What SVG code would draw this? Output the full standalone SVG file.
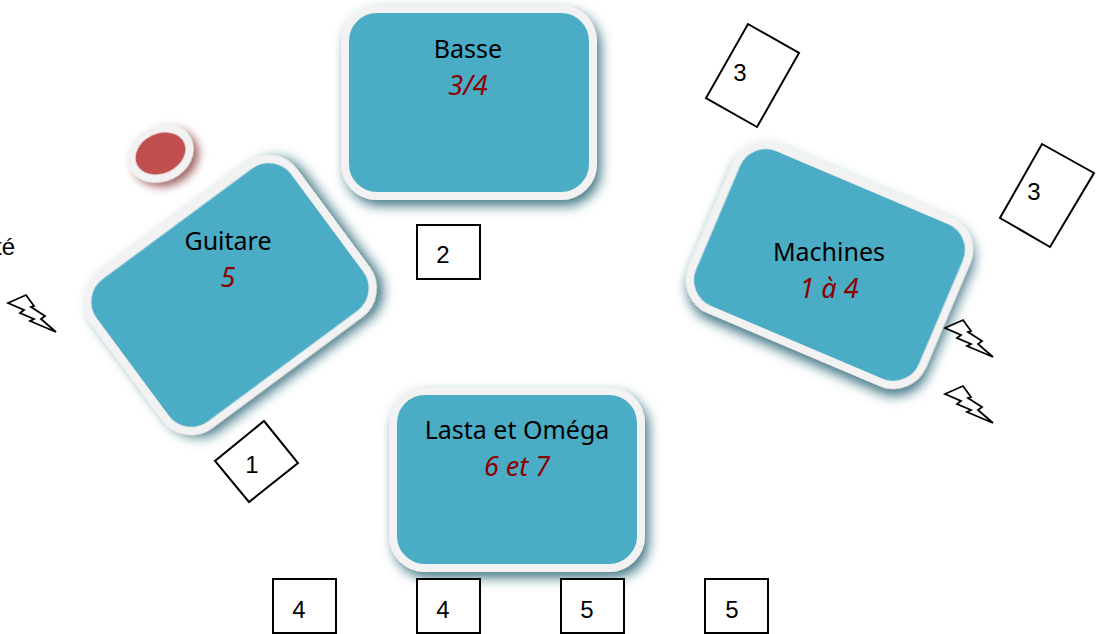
<svg xmlns="http://www.w3.org/2000/svg" width="1097" height="634" viewBox="0 0 1097 634">
<style>
.stage{fill:#4bacc6;stroke:#f2f2f2;stroke-width:8;filter:url(#sh)}
.t{font-family:"Noto Sans",sans-serif;font-size:25px;fill:#000;text-anchor:middle}
.s{font-family:"Noto Sans",sans-serif;font-size:27px;font-style:italic;fill:#8b0000;text-anchor:middle}
.b{fill:#fff;stroke:#000;stroke-width:2}
.n{font-family:"Liberation Sans",sans-serif;font-size:24px;fill:#000;text-anchor:middle}
.l{font-family:"Liberation Sans",sans-serif;font-size:24px;fill:#000}
.z{fill:#fff;stroke:#000;stroke-width:1.800}
</style>
<defs>
<filter id="sh" x="-20%" y="-20%" width="140%" height="140%"><feDropShadow dx="4" dy="6" stdDeviation="6" flood-color="#1f5a6b" flood-opacity=".8"/></filter>
<filter id="shr" x="-40%" y="-40%" width="180%" height="180%"><feDropShadow dx="3" dy="6" stdDeviation="4" flood-color="#7a2020" flood-opacity=".7"/></filter>
<polygon id="bolt" points="0,0 18,-8 26,3 23,4 37,13 33,16 48,29 22,18 26,16 12,10 16,7"/>
</defs>
<g id="basse"><rect class="stage" x="345" y="9" width="248" height="187" rx="32"/><text class="t" x="468" y="58">Basse</text><text class="s" x="468" y="95">3/4</text></g>
<g id="guitare"><rect class="stage" x="105" y="202.500" width="250" height="185" rx="32" transform="rotate(-36.500 230 295)"/><text class="t" x="228" y="250">Guitare</text><text class="s" x="228" y="287">5</text></g>
<g id="machines"><rect class="stage" x="704.500" y="177" width="250" height="176" rx="32" transform="rotate(23 829.500 265)"/><text class="t" x="829" y="261">Machines</text><text class="s" x="829" y="298">1 à 4</text></g>
<g id="lasta"><rect class="stage" x="393" y="391" width="248" height="177" rx="32"/><text class="t" x="517" y="439">Lasta et Oméga</text><text class="s" x="517" y="476">6 et 7</text></g>
<g id="pastille"><ellipse cx="160.500" cy="153.500" rx="30" ry="24" fill="#c0504d" stroke="#f2f2f2" stroke-width="8" filter="url(#shr)" transform="rotate(-25 160.500 153.500)"/></g>
<g id="b2"><rect class="b" x="417" y="225" width="63" height="54"/><text class="n" x="443" y="263">2</text></g>
<g id="b4a"><rect class="b" x="273" y="579" width="63" height="54"/><text class="n" x="299" y="618">4</text></g>
<g id="b4b"><rect class="b" x="417" y="579" width="63" height="54"/><text class="n" x="443" y="618">4</text></g>
<g id="b5a"><rect class="b" x="561" y="579" width="63" height="54"/><text class="n" x="587" y="618">5</text></g>
<g id="b5b"><rect class="b" x="705" y="579" width="63" height="54"/><text class="n" x="732" y="618">5</text></g>
<g id="b1"><polygon class="b" points="264,421 298,463 249,502 215,461"/><text class="n" x="252" y="473">1</text></g>
<g id="b3a"><polygon class="b" points="748,24 799,53 757,127 706,98"/><text class="n" x="740" y="81">3</text></g>
<g id="b3b"><polygon class="b" points="1042,144 1094,173 1050,247 1000,218"/><text class="n" x="1034" y="200">3</text></g>
<text class="l" x="-5" y="255">té</text>
<use href="#bolt" class="z" x="8" y="303"/>
<use href="#bolt" class="z" x="945" y="328"/>
<use href="#bolt" class="z" x="945" y="394"/>
</svg>
